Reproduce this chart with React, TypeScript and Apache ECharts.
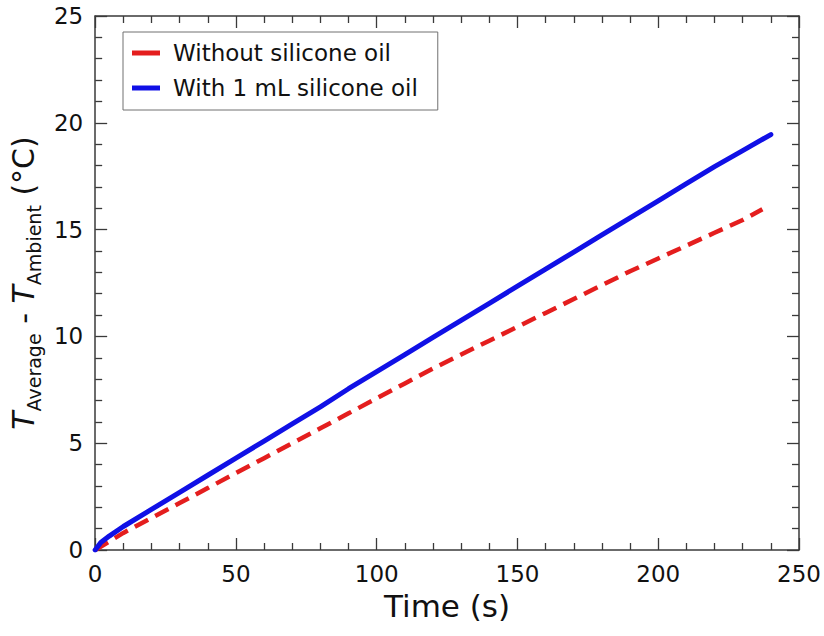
import React, { useEffect, useRef } from "react";
import * as echarts from "echarts";

const seriesNames = ["Without silicone oil", "With 1 mL silicone oil"];

const timeWithout = [0, 5, 10, 20, 30, 40, 50, 60, 70, 80, 90, 100, 110, 120, 130, 140, 150, 160, 170, 180, 190, 200, 210, 220, 230, 237];
const deltaWithout = [0, 0.4, 0.8, 1.5, 2.2, 2.9, 3.6, 4.3, 5.0, 5.7, 6.4, 7.1, 7.8, 8.5, 9.15, 9.8, 10.45, 11.1, 11.75, 12.4, 13.05, 13.65, 14.25, 14.85, 15.45, 15.95];

const timeWith = [0, 2, 5, 10, 20, 30, 40, 50, 60, 70, 80, 90, 100, 110, 120, 130, 140, 150, 160, 170, 180, 190, 200, 210, 220, 230, 240];
const deltaWith = [0, 0.35, 0.65, 1.1, 1.9, 2.7, 3.5, 4.3, 5.1, 5.9, 6.7, 7.55, 8.35, 9.15, 9.95, 10.75, 11.55, 12.35, 13.15, 13.95, 14.75, 15.55, 16.35, 17.15, 17.95, 18.7, 19.45];

const FONT = "'DejaVu Sans', sans-serif";
const AXIS_COLOR = "#3a3a3a";

export default function App() {
  const ref = useRef<HTMLDivElement>(null);

  useEffect(() => {
    if (!ref.current) return;
    const chart = echarts.init(ref.current, undefined, { renderer: "svg" });

    const baseAxis = {
      axisLine: { show: true, onZero: false, lineStyle: { color: AXIS_COLOR, width: 1.5 } },
      axisTick: { show: true, inside: true, length: 12, lineStyle: { color: AXIS_COLOR, width: 1.3 } },
      minorTick: { show: true, splitNumber: 5, length: 7, lineStyle: { color: AXIS_COLOR, width: 1.3 } },
      splitLine: { show: false },
    };

    const labelStyle = { color: "#111", fontFamily: FONT, fontSize: 23 };

    chart.setOption({
      animation: false,
      backgroundColor: "#ffffff",
      grid: { left: 91, top: 16, width: 708, height: 534, containLabel: false },
      legend: {
        orient: "vertical",
        left: 123,
        top: 32,
        data: seriesNames,
        icon: "rect",
        itemWidth: 28,
        itemHeight: 5,
        itemGap: 11,
        borderColor: "#707070",
        borderWidth: 1,
        borderRadius: 0,
        padding: [9, 20, 10, 9],
        backgroundColor: "#ffffff",
        textStyle: { color: "#111", fontFamily: FONT, fontSize: 23, lineHeight: 24, padding: [0, 0, 0, 8] },
      },
      xAxis: [
        {
          ...baseAxis,
          type: "value",
          min: 0,
          max: 250,
          interval: 50,
          position: "bottom",
          axisLabel: { ...labelStyle, margin: 12 },
          name: "Time (s)",
          nameLocation: "middle",
          nameGap: 40,
          nameTextStyle: { color: "#111", fontFamily: FONT, fontSize: 31 },
        },
        {
          ...baseAxis,
          type: "value",
          min: 0,
          max: 250,
          interval: 50,
          position: "top",
          axisLabel: { show: false },
        },
      ],
      yAxis: [
        {
          ...baseAxis,
          type: "value",
          min: 0,
          max: 25,
          interval: 5,
          position: "left",
          axisLabel: { ...labelStyle, margin: 12 },
          name: "{it|T}{sub|Average}{m| - }{it|T}{sub|Ambient}{m| (°C)}",
          nameLocation: "middle",
          nameGap: 44,
          nameRotate: 90,
          nameTextStyle: {
            color: "#111",
            fontFamily: FONT,
            fontSize: 30,
            rich: {
              it: { fontFamily: FONT, fontSize: 30, fontStyle: "italic", color: "#111", lineHeight: 40, verticalAlign: "middle" },
              m: { fontFamily: FONT, fontSize: 30, color: "#111", lineHeight: 40, verticalAlign: "middle" },
              sub: { fontFamily: FONT, fontSize: 19, color: "#111", lineHeight: 18, verticalAlign: "bottom" },
            },
          },
        },
        {
          ...baseAxis,
          type: "value",
          min: 0,
          max: 25,
          interval: 5,
          position: "right",
          axisLabel: { show: false },
        },
      ],
      series: [
        {
          name: seriesNames[0],
          type: "line",
          xAxisIndex: 0,
          yAxisIndex: 0,
          data: timeWithout.map((t, i) => [t, deltaWithout[i]]),
          showSymbol: false,
          symbol: "none",
          color: "#e41e1e",
          lineStyle: { color: "#e41e1e", width: 4.5, type: [15, 8], cap: "butt" },
          z: 2,
        },
        {
          name: seriesNames[1],
          type: "line",
          xAxisIndex: 0,
          yAxisIndex: 0,
          data: timeWith.map((t, i) => [t, deltaWith[i]]),
          showSymbol: false,
          symbol: "none",
          color: "#1010e6",
          lineStyle: { color: "#1010e6", width: 5, cap: "round" },
          z: 3,
        },
      ],
    });

    return () => chart.dispose();
  }, []);

  return (
    <div
      ref={ref}
      style={{ position: "absolute", left: 0, top: 0, width: 824, height: 636 }}
    />
  );
}
